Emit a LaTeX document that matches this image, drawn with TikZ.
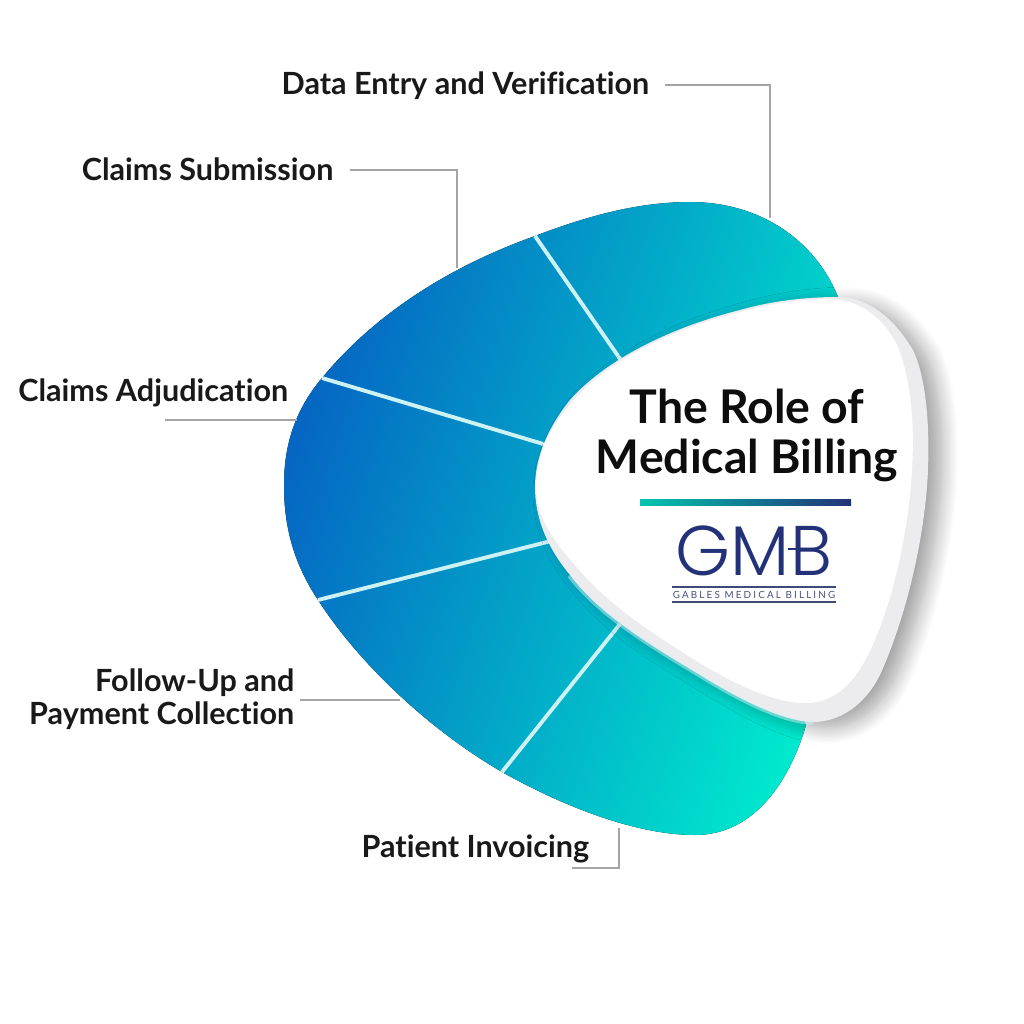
\documentclass[tikz,border=0pt]{standalone}
\usepackage{fontspec}
\setmainfont[Ligatures=NoCommon]{Lato}
\newfontfamily\logofont{Poppins Light}
\usetikzlibrary{calc,shadows.blur}

\definecolor{petalblue}{RGB}{5,100,195}
\definecolor{petalmid}{RGB}{0,176,200}
\definecolor{petalteal}{RGB}{0,232,205}
\definecolor{dividerline}{RGB}{205,242,246}
\definecolor{leadergray}{RGB}{165,165,165}
\definecolor{gmbnavy}{RGB}{35,50,120}
\definecolor{rimgray}{RGB}{236,236,239}

\tikzset{
  steplabel/.style={font=\bfseries\fontsize{8.7pt}{9.5pt}\selectfont, text=black!90, inner sep=0pt, align=right},
  leader/.style={leadergray, line width=0.6pt},
  divider/.style={dividerline, line width=1.1pt}
}

\begin{document}
\begin{tikzpicture}[x=1cm,y=-1cm]
\useasboundingbox (0,0) rectangle (10.24,10.24);

% Ring body
\fill[left color=petalblue, middle color=petalmid, right color=petalteal, shading angle=72]
  (8.38,2.97) .. controls (8.15,2.40) and (7.60,2.02) .. (6.90,2.02)
  .. controls (6.40,2.02) and (5.90,2.15) .. (5.35,2.36)
  .. controls (4.40,2.70) and (3.70,3.20) .. (3.22,3.78)
  .. controls (2.95,4.10) and (2.84,4.45) .. (2.84,4.85)
  .. controls (2.84,5.30) and (2.95,5.65) .. (3.18,6.00)
  .. controls (3.60,6.65) and (4.30,7.30) .. (5.02,7.72)
  .. controls (5.70,8.10) and (6.40,8.35) .. (6.95,8.35)
  .. controls (7.55,8.35) and (7.90,7.80) .. (8.06,7.25)
  -- (7.00,5.00) -- cycle;

% Dividers
\draw[divider] (5.35,2.36) -- (6.25,3.66);
\draw[divider] (3.22,3.78) -- (5.50,4.46);
\draw[divider] (3.18,6.00) -- (5.55,5.40);
\draw[divider] (5.02,7.72) -- (6.20,6.24);

% Rim of the plate
\fill[rimgray, blur shadow={shadow xshift=0.14cm, shadow yshift=-0.06cm, shadow blur radius=0.16cm, shadow blur steps=12, shadow opacity=36}]
  (8.37,2.97) .. controls (8.70,2.97) and (8.95,3.20) .. (9.13,3.50)
  .. controls (9.25,3.75) and (9.30,4.20) .. (9.28,4.70)
  .. controls (9.25,5.40) and (9.05,6.20) .. (8.80,6.75)
  .. controls (8.65,7.05) and (8.40,7.22) .. (8.13,7.22)
  .. controls (7.85,7.22) and (7.40,7.00) .. (7.00,6.75)
  .. controls (6.50,6.45) and (6.00,6.15) .. (5.70,5.75)
  .. controls (5.45,5.45) and (5.35,5.15) .. (5.35,4.87)
  .. controls (5.35,4.55) and (5.50,4.25) .. (5.70,4.00)
  .. controls (6.10,3.55) and (6.80,3.25) .. (7.40,3.10)
  .. controls (7.75,3.00) and (8.10,2.97) .. (8.37,2.97) -- cycle;

% Pale edge on the ring side
\draw[dividerline, line width=1pt, opacity=0.5]
  (8.13,7.23) .. controls (7.85,7.23) and (7.40,7.01) .. (7.00,6.76)
  .. controls (6.50,6.46) and (6.00,6.16) .. (5.69,5.76);

% White face
\fill[white]
  (8.30,2.99) .. controls (8.60,2.99) and (8.85,3.20) .. (8.97,3.45)
  .. controls (9.10,3.75) and (9.15,4.20) .. (9.12,4.70)
  .. controls (9.08,5.40) and (8.90,6.10) .. (8.68,6.55)
  .. controls (8.50,6.90) and (8.30,7.03) .. (8.05,7.03)
  .. controls (7.75,7.03) and (7.35,6.85) .. (6.95,6.60)
  .. controls (6.50,6.32) and (6.05,6.02) .. (5.75,5.65)
  .. controls (5.48,5.35) and (5.36,5.12) .. (5.36,4.87)
  .. controls (5.36,4.55) and (5.50,4.27) .. (5.72,4.02)
  .. controls (6.10,3.57) and (6.80,3.27) .. (7.40,3.12)
  .. controls (7.75,3.02) and (8.05,2.99) .. (8.30,2.99) -- cycle;

% Title
\node[font=\bfseries\fontsize{13.2pt}{14.2pt}\selectfont, text=black!95, align=center, inner sep=0pt] (title) at (7.47,4.35) {The Role of\\Medical Billing};
\shade[left color=petalteal!85!black, right color=gmbnavy] (6.40,4.99) rectangle (8.51,5.05);

% Logo
\node[font=\logofont\fontsize{20pt}{20pt}\selectfont, text=gmbnavy, inner sep=0pt] (gmb) at (7.54,5.51) {GMB};
\draw[gmbnavy, line width=0.7pt] (7.88,5.49) -- (8.02,5.49);
\draw[gmbnavy!70!gray, line width=0.3pt] (6.72,5.87) -- (8.36,5.87) (6.72,6.02) -- (8.36,6.02);
\node[font=\fontsize{2.8pt}{3pt}\selectfont\addfontfeature{LetterSpace=22}, text=gmbnavy!60!gray, inner sep=0pt] (gables) at (7.54,5.95) {GABLES MEDICAL BILLING};

% Labels
\node[steplabel, anchor=east] (dataentry) at (6.50,0.86) {Data Entry and Verification};
\node[steplabel, anchor=east] (submission) at (3.34,1.69) {Claims Submission};
\node[steplabel, anchor=east] (adjudication) at (2.89,3.93) {Claims Adjudication};
\node[steplabel, anchor=east] (followup) at (2.95,6.99) {Follow-Up and\\Payment Collection};
\node[steplabel, anchor=east] (invoicing) at (5.90,8.49) {Patient Invoicing};

% Leader ends
\coordinate (dataentrystart) at (6.65,0.85);
\coordinate (dataentryend) at (7.70,2.18);
\coordinate (submissionstart) at (3.50,1.70);
\coordinate (submissionend) at (4.57,2.68);
\coordinate (adjleft) at (1.65,4.20);
\coordinate (adjright) at (2.97,4.20);
\coordinate (followstart) at (3.00,7.00);
\coordinate (followend) at (4.00,7.00);
\coordinate (invstart) at (5.72,8.68);
\coordinate (invend) at (6.19,8.28);

\draw[leader] (dataentrystart) -| (dataentryend);
\draw[leader] (submissionstart) -| (submissionend);
\draw[leader] (adjleft) -- (adjright);
\draw[leader] (followstart) -- (followend);
\draw[leader] (invstart) -| (invend);

\end{tikzpicture}
\end{document}
